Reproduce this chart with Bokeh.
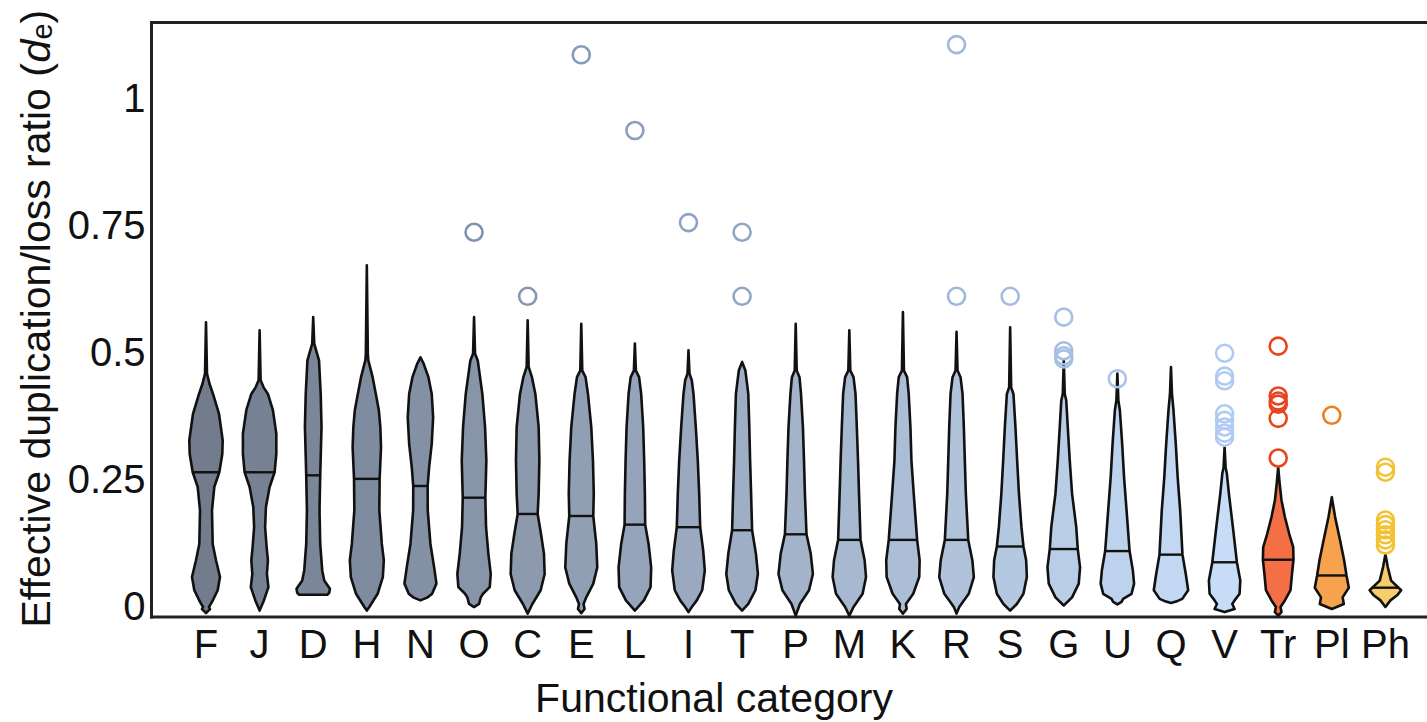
import numpy as np
from bokeh.plotting import figure
from bokeh.models import Range1d, FixedTicker, ColumnDataSource
from bokeh.core.properties import value
from bokeh.embed import file_html
from bokeh.resources import INLINE

# ---------------- data ----------------
categories = ["F", "J", "D", "H", "N", "O", "C", "E", "L", "I", "T", "P",
              "M", "K", "R", "S", "G", "U", "Q", "V", "Tr", "Pl", "Ph"]

medians = [0.263, 0.263, 0.257, 0.250, 0.236, 0.213, 0.181, 0.177, 0.160, 0.155,
           0.149, 0.141, 0.130, 0.130, 0.130, 0.117, 0.112, 0.108, 0.101, 0.086,
           0.091, 0.060, 0.036]

# violin profiles: (d_e level, relative density) from the top of each violin to its bottom
violin_F = [(.558, 0), (.457, 1), (.437, 3.5), (.417, 7), (.378, 13), (.326, 16.7), (.299, 16.3),
            (.263, 13.3), (.234, 8.3), (.188, 6), (.122, 6.7), (.090, 10), (.057, 14), (.031, 11.7),
            (.008, 6), (-.002, 3), (-.006, 4), (-.014, 0)]
violin_J = [(.542, 0), (.444, 1), (.430, 4), (.417, 8.3), (.385, 13.3), (.339, 16.7), (.299, 16.7),
            (.263, 15), (.234, 10), (.194, 6.3), (.155, 5.5), (.116, 7), (.090, 8.3), (.063, 7.3),
            (.037, 8.8), (.011, 4.3), (-.009, 0)]
violin_D = [(.568, 0), (.516, 1), (.483, 5.8), (.417, 7.5), (.352, 8.3), (.257, 7), (.188, 6.3),
            (.122, 7), (.070, 9), (.050, 11), (.034, 16.7), (.026, 16), (.022, 14)]
violin_H = [(.670, 0), (.496, 1), (.483, 1.5), (.450, 5.8), (.417, 9), (.385, 12), (.352, 13.5),
            (.312, 14.2), (.250, 12.8), (.188, 12.5), (.122, 15), (.090, 17), (.057, 16),
            (.024, 10.8), (-.002, 2.5), (-.009, 0)]
violin_N = [(.489, 0), (.476, 3.3), (.450, 8), (.417, 11.3), (.371, 12.7), (.319, 11.3), (.273, 8.7),
            (.236, 7.2), (.188, 7.3), (.122, 10), (.076, 13.7), (.044, 16), (.024, 11.7),
            (.017, 7.3), (.011, 0)]
violin_O = [(.568, 0), (.496, 1), (.483, 3.7), (.417, 8.3), (.352, 11), (.286, 12.3), (.213, 11.3),
            (.155, 12), (.103, 14.3), (.063, 16.7), (.037, 15.7), (.024, 9), (.017, 6.7),
            (.004, 5), (-.002, 0)]
violin_C = [(.562, 0), (.470, 1), (.450, 4.3), (.417, 7.7), (.352, 11), (.286, 11.7), (.221, 11),
            (.181, 10), (.142, 13.3), (.103, 16.3), (.063, 17), (.031, 13), (.004, 4.7), (-.015, 0)]
violin_E = [(.555, 0), (.463, 1), (.450, 4.3), (.417, 6.7), (.352, 10), (.286, 11.7), (.221, 12.5),
            (.177, 12), (.122, 15), (.076, 16), (.044, 12), (.017, 5), (.004, 2.3), (-.006, 3.3),
            (-.014, 0)]
violin_L = [(.516, 0), (.463, 1), (.450, 4.2), (.417, 6.3), (.352, 8.3), (.286, 9.3), (.221, 10),
            (.160, 10.3), (.122, 13.7), (.076, 16.3), (.037, 15.7), (.011, 9), (-.009, 0)]
violin_I = [(.503, 0), (.457, 1), (.444, 3.3), (.417, 5), (.352, 7.3), (.286, 9.3), (.221, 10.7),
            (.155, 11.7), (.109, 14.7), (.070, 16.3), (.031, 13.7), (.011, 8.3), (-.002, 3.3),
            (-.012, 0)]
violin_T = [(.480, 0), (.463, 3.3), (.417, 6.2), (.352, 7.2), (.286, 8), (.221, 9), (.149, 10),
            (.103, 13.8), (.063, 15.8), (.031, 13.3), (.004, 6.2), (-.009, 0)]
violin_P = [(.555, 0), (.463, 1), (.450, 3.8), (.417, 5.3), (.352, 7.2), (.286, 8.3), (.221, 9.2),
            (.141, 10.8), (.103, 15), (.063, 17.2), (.031, 13.3), (.004, 4.2), (-.019, 0)]
violin_M = [(.542, 0), (.463, 1), (.450, 4.2), (.417, 6.2), (.352, 7.5), (.286, 8.7), (.221, 9.7),
            (.130, 11.2), (.090, 15.3), (.057, 16.7), (.024, 13.3), (-.002, 4.2), (-.019, 0)]
violin_K = [(.578, 0), (.463, 1), (.450, 4.2), (.417, 5.8), (.352, 7.5), (.286, 8.5), (.221, 10.8),
            (.130, 14.2), (.090, 16.7), (.057, 16.3), (.024, 10.3), (.004, 3), (-.006, 3.7),
            (-.015, 0)]
violin_R = [(.539, 0), (.463, 1), (.450, 4), (.417, 6), (.352, 7.3), (.286, 8.3), (.221, 9.3),
            (.130, 11.7), (.090, 15.8), (.057, 17.3), (.024, 12.2), (-.002, 2.7), (-.015, 0)]
violin_S = [(.548, 0), (.430, 1), (.417, 3.3), (.352, 5.3), (.286, 7), (.221, 8.8), (.155, 11.3),
            (.117, 13.3), (.090, 16), (.057, 16.7), (.024, 13.3), (.004, 6.7), (-.009, 0)]
violin_G = [(.483, 0), (.417, 1), (.404, 2.5), (.352, 4), (.286, 6), (.221, 8.3), (.155, 12.5),
            (.112, 14), (.076, 16.3), (.044, 15), (.017, 8.3), (.001, 0)]
violin_U = [(.457, 0), (.404, 1), (.385, 2.5), (.319, 4.8), (.253, 6.7), (.188, 9.2), (.108, 12.2),
            (.070, 15.5), (.044, 16.7), (.024, 14.2), (.014, 5.8), (.008, 4.2), (.003, 0)]
violin_Q = [(.470, 0), (.417, 1), (.385, 2.5), (.319, 4.8), (.253, 6.7), (.188, 9.2), (.101, 11.5),
            (.063, 14.8), (.031, 17.2), (.014, 11.3), (.010, 6.7), (.006, 0)]
violin_V = [(.312, 0), (.273, 1), (.260, 2.3), (.221, 4.3), (.155, 8.3), (.086, 12.3), (.050, 15.7),
            (.024, 15), (.011, 10), (.004, 7.7), (-.006, 10), (-.012, 0)]
violin_Tr = [(.273, 0), (.240, 1.5), (.208, 3.3), (.175, 6.7), (.142, 11), (.116, 15), (.091, 15.3),
             (.063, 13.8), (.031, 12.3), (.011, 6.7), (-.002, 2.3), (-.012, 3.3), (-.019, 0)]
violin_Pl = [(.214, 0), (.175, 3.3), (.129, 8.3), (.090, 12.3), (.060, 14.7), (.036, 17),
             (.017, 10.8), (.004, 12), (-.006, 0)]
violin_Ph = [(.102, 0), (.077, 2.3), (.050, 5.7), (.031, 15.8), (.021, 11.7), (.011, 5), (-.002, 0)]

violins = [violin_F, violin_J, violin_D, violin_H, violin_N, violin_O, violin_C, violin_E,
           violin_L, violin_I, violin_T, violin_P, violin_M, violin_K, violin_R, violin_S,
           violin_G, violin_U, violin_Q, violin_V, violin_Tr, violin_Pl, violin_Ph]

outlier_category = ["O", "C", "E", "L", "I", "T", "T", "R", "R", "S",
                    "G", "G", "G", "G", "U",
                    "V", "V", "V", "V", "V", "V", "V", "V",
                    "Tr", "Tr", "Tr", "Tr", "Tr", "Tr", "Pl",
                    "Ph", "Ph", "Ph", "Ph", "Ph", "Ph", "Ph", "Ph"]
outlier_value = [0.735, 0.609, 1.084, 0.935, 0.754, 0.735, 0.609, 1.104, 0.609, 0.609,
                 0.568, 0.502, 0.492, 0.486, 0.447,
                 0.497, 0.452, 0.443, 0.378, 0.365, 0.352, 0.340, 0.332,
                 0.511, 0.413, 0.403, 0.397, 0.369, 0.291, 0.375,
                 0.273, 0.263, 0.169, 0.160, 0.150, 0.140, 0.130, 0.120]

y_ticks = [0, 0.25, 0.5, 0.75, 1]
y_tick_labels = ["0", "0.25", "0.5", "0.75", "1"]

y_label_parts = ["Effective duplication/loss ratio (", "d", "e", ")"]
x_label = "Functional category"

# ---------------- style / layout ----------------
FONT = "Liberation Sans"
PX_PER_X = 53.61               # pixels per category step
PX_PER_Y = 508.5               # pixels per unit of d_e
X0_PX, Y0_PX = 205.5, 605.5    # pixel of category 0 / of d_e = 0
W, H = 1427, 722
WIDTH_SCALE = 1 / PX_PER_X     # density unit -> category units

def px_to_x(px):
    return (px - X0_PX) / PX_PER_X

def px_to_y(py):
    return (Y0_PX - py) / PX_PER_Y

AX_LEFT = px_to_x(151)
AX_BOTTOM = px_to_y(616.5)
AX_TOP = px_to_y(22)
AX_RIGHT = px_to_x(W)

def lerp_hex(c0, c1, t):
    r = [round(a + (b - a) * t) for a, b in zip(c0, c1)]
    return "#%02x%02x%02x" % tuple(r)

dark, light = (114, 124, 141), (198, 220, 247)
n_blue = 20
fill_colors = [lerp_hex(dark, light, i / (n_blue - 1)) for i in range(n_blue)]
fill_colors += ["#f46f45", "#f7a24f", "#f6cd6c"]
out_dark, out_light = (112, 126, 152), (176, 203, 242)
outline_colors = [lerp_hex(out_dark, out_light, i / (n_blue - 1)) for i in range(n_blue)]
outline_colors += ["#e8441e", "#f07d1c", "#f3c232"]

# ---------------- figure (frame covers the whole canvas) ----------------
p = figure(width=W, height=H, output_backend="svg", toolbar_location=None,
           x_range=Range1d(px_to_x(0), px_to_x(W)), y_range=Range1d(px_to_y(H), px_to_y(0)),
           min_border=0, min_border_left=0, min_border_right=0, min_border_top=0,
           min_border_bottom=0)
p.title.visible = False
p.xgrid.visible = False
p.ygrid.visible = False
p.outline_line_color = None
p.background_fill_color = "white"
p.border_fill_color = "white"

# frame lines (left, bottom, top)
p.segment(x0=[AX_LEFT, AX_LEFT, AX_LEFT], y0=[AX_BOTTOM, AX_BOTTOM, AX_TOP],
          x1=[AX_LEFT, AX_RIGHT, AX_RIGHT], y1=[AX_TOP, AX_BOTTOM, AX_TOP],
          line_color="#222222", line_width=3, line_cap="square")

# violins
xs, ys = [], []
for i, prof in enumerate(violins):
    lv = np.array([a for a, b in prof])
    dw = np.array([b for a, b in prof]) * WIDTH_SCALE
    xs.append(list(i - dw) + list((i + dw)[::-1]))
    ys.append(list(lv) + list(lv[::-1]))
src = ColumnDataSource(dict(xs=xs, ys=ys, fill=fill_colors))
p.patches("xs", "ys", source=src, fill_color="fill", line_color="#111111",
          line_width=2.6, line_join="round")

# median lines
mx0, mx1 = [], []
for i, (prof, m) in enumerate(zip(violins, medians)):
    lv = np.array([a for a, b in prof])[::-1]
    dw = np.array([b for a, b in prof])[::-1]
    hw = np.interp(m, lv, dw) * WIDTH_SCALE
    mx0.append(i - hw)
    mx1.append(i + hw)
p.segment(x0=mx0, y0=medians, x1=mx1, y1=medians, line_color="#111111", line_width=2.4)

# outliers
cat_index = {c: i for i, c in enumerate(categories)}
ox = [cat_index[c] for c in outlier_category]
oc = [outline_colors[cat_index[c]] for c in outlier_category]
p.scatter(x=ox, y=outlier_value, marker="circle", size=17, fill_color=None,
          line_color=oc, line_width=2.6)

# axes drawn at fixed locations inside the canvas
for ax in (p.xaxis[0], p.yaxis[0]):
    ax.major_tick_line_color = None
    ax.minor_tick_line_color = None
    ax.major_tick_out = 0
    ax.major_tick_in = 0
    ax.minor_tick_out = 0
    ax.minor_tick_in = 0
    ax.axis_line_color = None
    ax.major_label_text_font = FONT
    ax.major_label_text_font_size = "40px"
    ax.major_label_text_color = "#111111"

p.xaxis.fixed_location = AX_BOTTOM
p.xaxis.ticker = FixedTicker(ticks=list(range(len(categories))))
p.xaxis.major_label_overrides = {i: c for i, c in enumerate(categories)}
p.xaxis.major_label_standoff = 5
p.xaxis.axis_label = x_label
p.xaxis.axis_label_text_font = FONT
p.xaxis.axis_label_text_font_style = "normal"
p.xaxis.axis_label_text_font_size = "41px"
p.xaxis.axis_label_text_color = "#111111"
p.xaxis.axis_label_standoff = 5

p.yaxis.fixed_location = AX_LEFT
p.yaxis.ticker = FixedTicker(ticks=y_ticks)
p.yaxis.major_label_overrides = {t: s for t, s in zip(y_ticks, y_tick_labels)}
p.yaxis.major_label_standoff = 6

# rotated y axis label: "Effective duplication/loss ratio (" + italic d + subscript e + ")"
size, sub = 41, 29
em_width = [13.783 * size, 0.556 * size, 0.556 * sub, 0.333 * size]
styles = ["normal", "italic", "normal", "normal"]
sizes = [f"{size}px", f"{size}px", f"{sub}px", f"{size}px"]
shift_px = [0, 0, 6, 0]
base_px = 35
lab_x, lab_y = [], []
y_cur = px_to_y(627)
for wpx, sh in zip(em_width, shift_px):
    lab_x.append(px_to_x(base_px + sh))
    lab_y.append(y_cur)
    y_cur += wpx / PX_PER_Y
lab_src = ColumnDataSource(dict(x=lab_x, y=lab_y, text=y_label_parts, style=styles, size=sizes))
p.text(x="x", y="y", text="text", source=lab_src, angle=np.pi / 2, text_font=value(FONT),
       text_font_style="style", text_font_size="size", text_color="#111111",
       text_align="left", text_baseline="alphabetic")

open("out.html", "w").write(file_html(p, INLINE))
